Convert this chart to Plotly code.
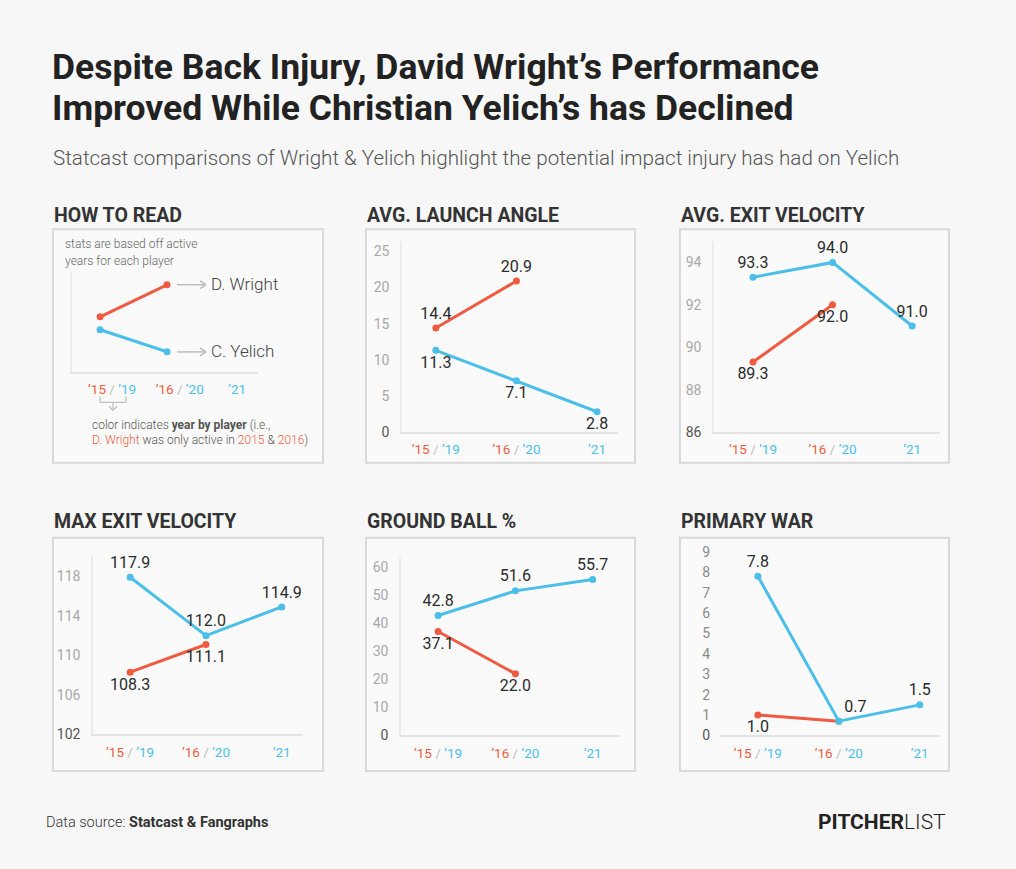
import plotly.graph_objects as go

# ---------------- data ----------------
season_labels = ["’15 / ’19", "’16 / ’20", "’21"]
wright_seasons = [0, 1]
yelich_seasons = [0, 1, 2]

wright_launch = [14.4, 20.9]
yelich_launch = [11.3, 7.1, 2.8]

wright_avg_ev = [89.3, 92.0]
yelich_avg_ev = [93.3, 94.0, 91.0]

wright_max_ev = [108.3, 111.1]
yelich_max_ev = [117.9, 112.0, 114.9]

wright_gb = [37.1, 22.0]
yelich_gb = [42.8, 51.6, 55.7]

wright_war = [1.0, 0.7]
yelich_war = [7.8, 0.7, 1.5]

# illustrative sample for the "how to read" panel
sample_wright = [5.5, 8.7]
sample_yelich = [4.2, 2.0]

launch_ticks = [0, 5, 10, 15, 20, 25]
avg_ev_ticks = [86, 88, 90, 92, 94]
max_ev_ticks = [102, 106, 110, 114, 118]
gb_ticks = [0, 10, 20, 30, 40, 50, 60]
war_ticks = [0, 1, 2, 3, 4, 5, 6, 7, 8, 9]

# ---------------- style ----------------
W, H = 1016, 869
RED = "#f05a40"
BLUE = "#4bbfea"
DARK = "#2b2b2b"
FONT = "Roboto"
BG = "#f7f7f7"
BOXFILL = "#fafafa"
BOXLINE = "#d9d9d9"
AXLINE = "#e4e4e4"


def px(x):
    return x / W


def py(y):
    return 1 - y / H


def xdom(a, b):
    return [a / W, b / W]


def ydom(top, bottom):
    return [1 - bottom / H, 1 - top / H]


def xtick_text():
    sep = "<span style='color:#bdbdbd'> / </span>"
    a, b, c = [s.split(" / ") for s in season_labels]
    return [
        f"<span style='color:{RED}'>{a[0]}</span>{sep}<span style='color:{BLUE}'>{a[1]}</span>",
        f"<span style='color:{RED}'>{b[0]}</span>{sep}<span style='color:{BLUE}'>{b[1]}</span>",
        f"<span style='color:{BLUE}'>{c[0]}</span>",
    ]


def ytick_text(vals):
    out = []
    for i, v in enumerate(vals):
        if i == 0:
            out.append(f"<span style='color:#555'>{v}</span>")
        else:
            out.append(str(v))
    return out


fig = go.Figure()
layout_axes = {}

panels = [
    dict(n=2, xd=(402, 618), yd=(242, 435), xr=[-0.42, 2.26], yr=[0, 26.4], ticks=launch_ticks, yline=True,
         w=wright_launch, y=yelich_launch,
         wpos=["top center", "top center"], ypos=["bottom center", "bottom center", "bottom center"]),
    dict(n=3, xd=(714, 940), yd=(242, 435), xr=[-0.49, 2.35], yr=[86, 95], ticks=avg_ev_ticks, yline=True,
         w=wright_avg_ev, y=yelich_avg_ev,
         wpos=["bottom center", "bottom center"], ypos=["top center", "top center", "top center"]),
    dict(n=4, xd=(93, 303), yd=(560, 741), xr=[-0.49, 2.28], yr=[102, 120.1], ticks=max_ev_ticks, yline=True,
         w=wright_max_ev, y=yelich_max_ev,
         wpos=["bottom center", "bottom center"], ypos=["top center", "top center", "top center"]),
    dict(n=5, xd=(401, 619), yd=(562, 742), xr=[-0.48, 2.34], yr=[0, 63.5], ticks=gb_ticks, yline=True,
         w=wright_gb, y=yelich_gb,
         wpos=["bottom center", "bottom center"], ypos=["top center", "top center", "top center"]),
    dict(n=6, xd=(719, 940), yd=(550, 742), xr=[-0.48, 2.25], yr=[0, 9.3], ticks=war_ticks, yline=False,
         w=wright_war, y=yelich_war,
         wpos=["bottom center", "bottom center"], ypos=["top center", "top right", "top center"]),
]

for p in panels:
    n = p["n"]
    xa, ya = f"x{n}", f"y{n}"
    wtext = [f"{v:.1f}" for v in p["w"]]
    if n == 6:
        wtext[1] = ""  # shares label with Yelich point
    fig.add_trace(go.Scatter(
        x=wright_seasons, y=p["w"], xaxis=xa, yaxis=ya, mode="lines+markers+text",
        line=dict(color=RED, width=3), marker=dict(color=RED, size=7),
        text=wtext, textposition=p["wpos"], textfont=dict(family=FONT, size=16, color=DARK),
        showlegend=False, cliponaxis=False, hoverinfo="skip"))
    fig.add_trace(go.Scatter(
        x=yelich_seasons, y=p["y"], xaxis=xa, yaxis=ya, mode="lines+markers+text",
        line=dict(color=BLUE, width=3), marker=dict(color=BLUE, size=7),
        text=[f"{v:.1f}" for v in p["y"]], textposition=p["ypos"],
        textfont=dict(family=FONT, size=16, color=DARK),
        showlegend=False, cliponaxis=False, hoverinfo="skip"))
    layout_axes[f"xaxis{n}"] = dict(
        domain=xdom(*p["xd"]), anchor=ya, range=p["xr"], tickvals=[0, 1, 2], ticktext=xtick_text(),
        showgrid=False, zeroline=False, showline=True, linecolor=AXLINE, linewidth=2,
        tickfont=dict(family=FONT, size=13.5), ticks="", ticklabelstandoff=4, fixedrange=True)
    layout_axes[f"yaxis{n}"] = dict(
        domain=ydom(*p["yd"]), anchor=xa, range=p["yr"], tickvals=p["ticks"], ticktext=ytick_text(p["ticks"]),
        showgrid=False, zeroline=False, showline=p["yline"], linecolor="#ececec", linewidth=1.5,
        tickfont=dict(family=FONT, size=14, color="#a8a8a8" if n != 6 else "#8a8a8a"), ticks="",
        ticklabelstandoff=8, fixedrange=True)

# how-to-read panel (axis 7)
fig.add_trace(go.Scatter(
    x=wright_seasons, y=sample_wright, xaxis="x7", yaxis="y7", mode="lines+markers",
    line=dict(color=RED, width=3), marker=dict(color=RED, size=7), showlegend=False, hoverinfo="skip"))
fig.add_trace(go.Scatter(
    x=[0, 1], y=sample_yelich, xaxis="x7", yaxis="y7", mode="lines+markers",
    line=dict(color=BLUE, width=3), marker=dict(color=BLUE, size=7), showlegend=False, hoverinfo="skip"))
layout_axes["xaxis7"] = dict(
    domain=xdom(72, 258), anchor="y7", range=[-0.42, 2.36], tickvals=[0.18, 1.19, 2.05], ticktext=xtick_text(),
    showgrid=False, zeroline=False, showline=True, linecolor=AXLINE, linewidth=1.5,
    tickfont=dict(family=FONT, size=13.5), ticks="", ticklabelstandoff=4, fixedrange=True)
layout_axes["yaxis7"] = dict(
    domain=ydom(273, 374), anchor="x7", range=[0, 10], showticklabels=False,
    showgrid=False, zeroline=False, showline=True, linecolor="#ececec", linewidth=1.5, fixedrange=True)

shapes = []
for (x0, x1) in [(53, 323), (366, 635), (680, 949)]:
    for (y0, y1) in [(230, 466), (542, 778)]:
        shapes.append(dict(type="rect", xref="paper", yref="paper", x0=px(x0), x1=px(x1), y0=py(y1), y1=py(y0),
                           line=dict(color=BOXLINE, width=2), fillcolor=BOXFILL, layer="below"))

GRAY = "#bdbdbd"


def seg(x0, y0, x1, y1, w=1.5):
    shapes.append(dict(type="line", xref="paper", yref="paper", x0=px(x0), y0=py(y0), x1=px(x1), y1=py(y1),
                       line=dict(color=GRAY, width=w)))


for yy in (286, 354):
    seg(177, yy, 206, yy)
    seg(200, yy - 4, 206, yy)
    seg(200, yy + 4, 206, yy)
seg(100, 399, 100, 405, 1.2)
seg(100, 405, 126, 405, 1.2)
seg(126, 405, 126, 399, 1.2)
seg(113, 405, 113, 413, 1.2)
seg(109, 409, 113, 413, 1.2)
seg(117, 409, 113, 413, 1.2)

annotations = []


def txt(x, y, text, size, color=DARK, anchor="left", weight=400, yanchor="middle"):
    annotations.append(dict(x=px(x), y=py(y), xref="paper", yref="paper", text=text, showarrow=False,
                            xanchor=anchor, yanchor=yanchor,
                            font=dict(family=FONT, size=size, color=color, weight=weight)))


txt(50, 66, "Despite Back Injury, David Wright’s Performance", 35.5, "#222", weight=700)
txt(50, 107, "Improved While Christian Yelich’s has Declined", 35.5, "#222", weight=700)
txt(51, 158, "Statcast comparisons of Wright &amp; Yelich highlight the potential impact injury has had on Yelich",
    20.6, "#555", weight=300)

for (x, y, t) in [(52, 216, "HOW TO READ"), (365, 216, "AVG. LAUNCH ANGLE"), (679, 216, "AVG. EXIT VELOCITY"),
                  (52, 526, "MAX EXIT VELOCITY"), (365, 526, "GROUND BALL %"), (679, 526, "PRIMARY WAR")]:
    txt(x, y, t, 19.5, "#333", weight=700)

txt(63, 245, "stats are based off active", 12, "#666", weight=300)
txt(63, 262, "years for each player", 12, "#666", weight=300)
txt(209, 285, "D. Wright", 17, "#444", weight=300)
txt(209, 353, "C. Yelich", 17, "#444", weight=300)
txt(90, 428, "color indicates <b>year by player</b> (i.e.,", 12, "#555", weight=300)
txt(90, 443, f"<span style='color:{RED}'>D. Wright</span> was only active in "
             f"<span style='color:{RED}'>2015</span> &amp; <span style='color:{RED}'>2016</span>)",
    12, "#555", weight=300)

txt(44, 830, "Data source: <b>Statcast &amp; Fangraphs</b>", 14.5, "#333", weight=300)
txt(948, 830, "<b>PITCHER</b>LIST", 21, "#222", anchor="right", weight=300)

fig.update_layout(
    width=W, height=H, margin=dict(l=0, r=0, t=0, b=0),
    paper_bgcolor=BG, plot_bgcolor="rgba(0,0,0,0)",
    font=dict(family=FONT, color=DARK),
    shapes=shapes, annotations=annotations, showlegend=False,
    **layout_axes,
)
fig.update_layout(xaxis=dict(visible=False, domain=[0, 0.01]), yaxis=dict(visible=False, domain=[0, 0.01]))

fig.write_html("out.html", config={"displayModeBar": False},
               post_script="document.body.style.margin='0px';document.body.style.overflow='hidden';")
